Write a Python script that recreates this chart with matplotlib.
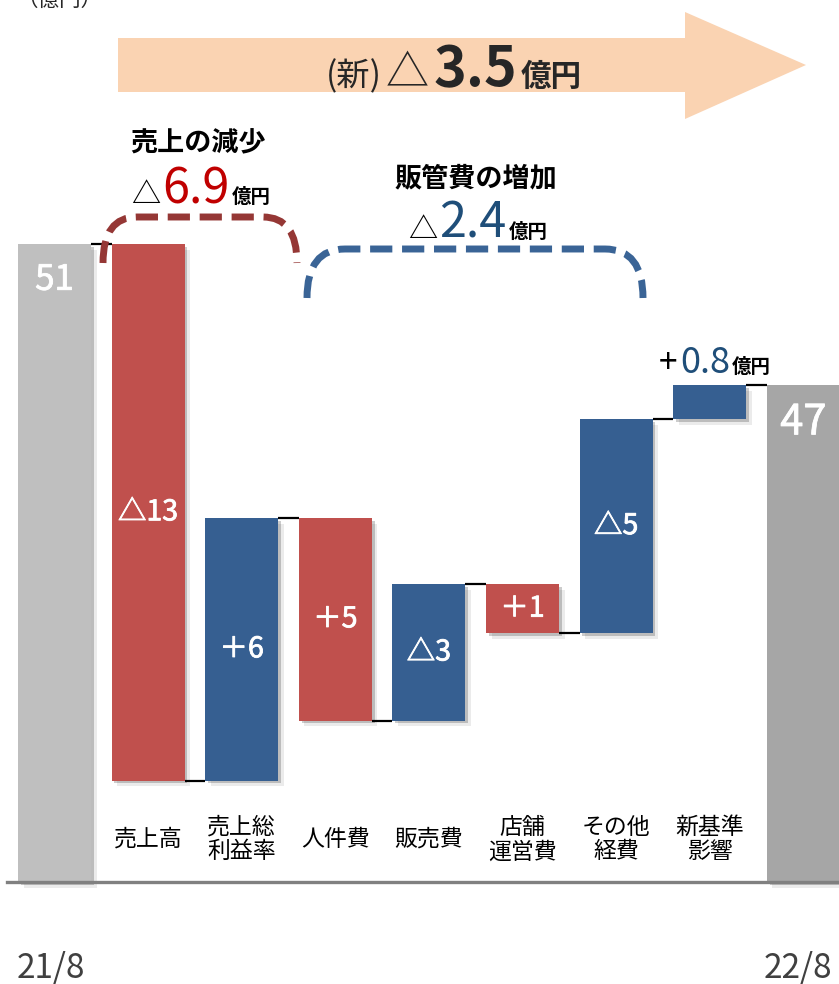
import matplotlib.pyplot as plt
import matplotlib.patheffects as pe
from matplotlib.patches import Polygon, PathPatch
from matplotlib.path import Path

plt.rcParams['font.family'] = ['Noto Sans CJK JP', 'DejaVu Sans']

# data
categories = ['21/8', '売上高', '売上総\n利益率', '人件費', '販売費',
              '店舗\n運営費', 'その他\n経費', '新基準\n影響', '22/8']
value_labels = ['51', '△13', '＋6', '＋5', '△3', '＋1', '△5', '', '47']
# drawn levels (the source chart is not to scale)
start_total = 51.0
steps = [-42.9, 21.0, -16.2, 10.9, -3.9, 17.1, 2.7]
end_total = 39.7
step_colors = ['#C0504D', '#365F91', '#C0504D', '#365F91',
               '#C0504D', '#365F91', '#365F91']
total_colors = ['#BFBFBF', '#A6A6A6']

RED_TXT = '#C00000'
BLUE_TXT = '#1F4E79'
DARK = '#262626'

fig = plt.figure(figsize=(8.39, 9.84), dpi=100)
ax = fig.add_axes([0, 0, 1, 1])
ax.set_xlim(-0.582, 8.381)
ax.set_ylim(-8.15, 70.5)
ax.axis('off')

w = 0.78
shadow = [pe.SimplePatchShadow(offset=(2, -2), shadow_rgbFace='black', alpha=0.2),
          pe.SimplePatchShadow(offset=(4, -4), shadow_rgbFace='black', alpha=0.08),
          pe.Normal()]
# white value labels get a faint same-colour stroke to thicken them a little
thick = [pe.withStroke(linewidth=0.6, foreground='white')]

# totals
tot = ax.bar([0, len(categories) - 1], [start_total, end_total], width=w,
             color=total_colors, zorder=2)
for p in tot:
    p.set_path_effects(shadow)

# floating steps + connectors
level = start_total
ax.hlines(level, 0 + w / 2, 1 - w / 2, color='black', lw=1.6, zorder=1)
for i, (d, c) in enumerate(zip(steps, step_colors), start=1):
    lo = min(level, level + d)
    b = ax.bar(i, abs(d), bottom=lo, width=w, color=c, zorder=2)
    b[0].set_path_effects(shadow)
    if value_labels[i]:
        ax.text(i, lo + abs(d) / 2, value_labels[i], ha='center', va='center',
                fontsize=20.5, color='white', zorder=4, path_effects=thick)
    level += d
    ax.hlines(level, i + w / 2, i + 1 - w / 2, color='black', lw=1.6, zorder=1)

ax.text(0, start_total - 2.9, value_labels[0], ha='center', va='center',
        fontsize=25, color='white', zorder=4, path_effects=thick)
ax.text(len(categories) - 1, end_total - 3.0, value_labels[-1], ha='center',
        va='center', fontsize=30, color='white', zorder=4, path_effects=thick)

ax.axhline(0, xmin=7 / 839, xmax=1, color='#808080', lw=2.4, zorder=5)

for i in range(1, len(categories) - 1):
    ax.text(i, 3.4, categories[i], ha='center', va='center', fontsize=16.5,
            linespacing=1.1, color='black')
ax.text(-0.04, -6.9, categories[0], ha='center', va='center', fontsize=24,
        color='#404040')
ax.text(len(categories) - 1.06, -6.9, categories[-1], ha='center', va='center',
        fontsize=24, color='#404040')

# decoration layer in pixel units
deco = fig.add_axes([0, 0, 1, 1])
deco.set_xlim(0, 839)
deco.set_ylim(984, 0)
deco.axis('off')

deco.text(16, 6, '（億円）', fontsize=15.5, color=DARK, va='baseline', ha='left')

arrow = Polygon([(118, 38), (685, 38), (685, 12), (806, 65), (685, 119),
                 (685, 92), (118, 92)], closed=True, color='#FAD3B2', lw=0)
deco.add_patch(arrow)

renderer = fig.canvas.get_renderer()


def rich(parts, xc, yb, gap=2):
    texts = []
    for s, size, color, weight in parts:
        t = deco.text(0, yb, s, fontsize=size, color=color, fontweight=weight,
                      va='baseline', ha='left')
        texts.append(t)
    widths = [t.get_window_extent(renderer).width for t in texts]
    x = xc - (sum(widths) + gap * (len(texts) - 1)) / 2
    for t, wd in zip(texts, widths):
        t.set_x(x)
        x += wd + gap


rich([('(新)', 24, DARK, 'normal'), ('△', 31, DARK, 'normal'),
      ('3.5', 40, DARK, 'bold'), ('億円', 22, DARK, 'bold')], 454, 86, gap=4)

deco.text(198, 143, '売上の減少', fontsize=19.5, fontweight='bold', ha='center',
          va='center', color='black')
rich([('△', 21, 'black', 'normal'), ('6.9', 35, RED_TXT, 'normal'),
      ('億円', 14, 'black', 'bold')], 201, 203)

deco.text(476, 178, '販管費の増加', fontsize=19.5, fontweight='bold', ha='center',
          va='center', color='black')
rich([('△', 21, 'black', 'normal'), ('2.4', 35, BLUE_TXT, 'normal'),
      ('億円', 14, 'black', 'bold')], 478, 238)

rich([('+', 24, 'black', 'normal'), ('0.8', 26, BLUE_TXT, 'normal'),
      ('億円', 14, 'black', 'bold')], 715, 373)


def bracket(x0, x1, ytop, ybot, r, color):
    verts = [(x0, ybot), (x0, ytop), (x0 + r, ytop), (x1 - r, ytop),
             (x1, ytop), (x1, ybot)]
    codes = [Path.MOVETO, Path.CURVE3, Path.CURVE3, Path.LINETO,
             Path.CURVE3, Path.CURVE3]
    deco.add_patch(PathPatch(Path(verts, codes), fill=False, edgecolor=color,
                             lw=5, linestyle=(0, (3.2, 1.4)), capstyle='butt'))


bracket(103, 297, 217, 263, 34, '#953735')
bracket(307, 643, 249, 298, 38, '#3A6496')

fig.savefig('out.png', dpi=100)
